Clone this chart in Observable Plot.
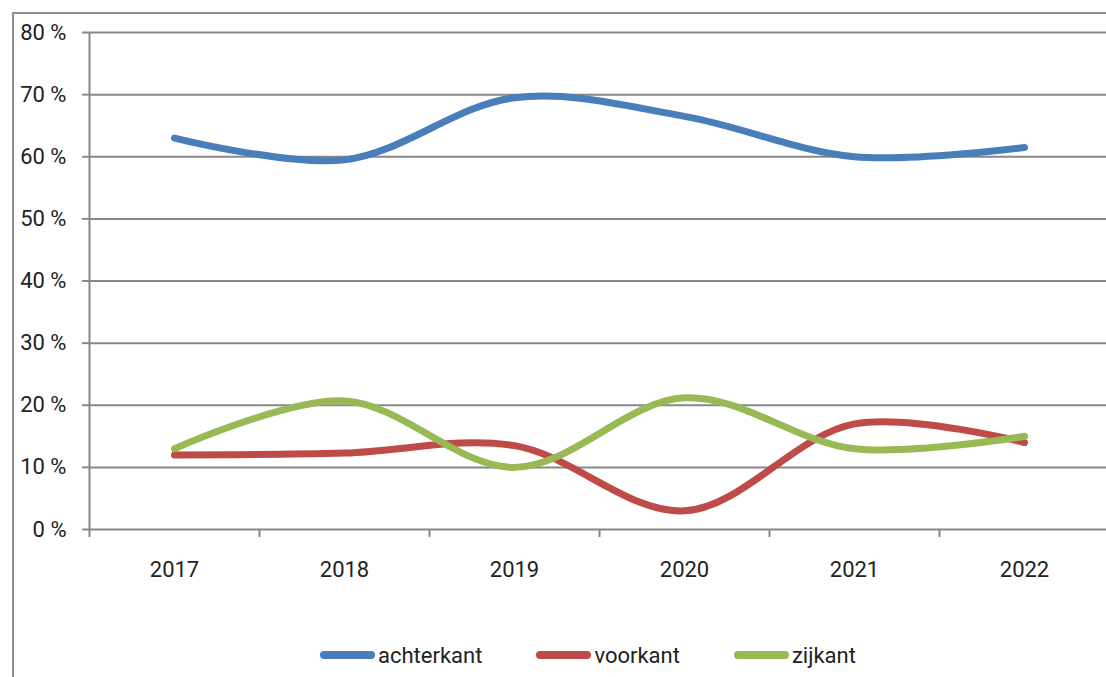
<!DOCTYPE html>
<html>
<head>
<meta charset="utf-8">
<script src="https://cdn.jsdelivr.net/npm/d3@7"></script>
<script src="https://cdn.jsdelivr.net/npm/@observablehq/plot@0.6"></script>
<style>
  html, body { margin: 0; padding: 0; background: #fff; }
  #wrap { position: relative; width: 1106px; height: 677px; overflow: hidden; font-family: Roboto, "Open Sans", sans-serif; }
  #frame { position: absolute; left: 12px; top: 12px; right: -10px; bottom: -10px; border-left: 2px solid #8e8e8e; border-top: 2px solid #8e8e8e; }
  #chart { position: absolute; left: 0; top: 0; }
  #legend { position: absolute; left: 320px; top: 640px; height: 30px; display: flex; align-items: center; font-size: 22px; color: #222; }
  .item { display: flex; align-items: center; margin-right: 54px; }
  .swatch { width: 55px; height: 8px; border-radius: 4px; margin-right: 3px; }
</style>
</head>
<body>
<div id="wrap">
  <div id="frame"></div>
  <div id="chart"></div>
  <div id="legend"></div>
</div>
<script>
const years = [2017, 2018, 2019, 2020, 2021, 2022];
const seriesNames = ["achterkant", "voorkant", "zijkant"];
const seriesColors = ["#4a7ebb", "#be4b48", "#98b954"];
const achterkant = [63, 59.5, 69.5, 66.5, 60, 61.5];
const voorkant = [12, 12.3, 13.5, 3, 17, 14];
const zijkant = [13, 20.7, 10, 21.2, 13, 15];
const yTicks = [0, 10, 20, 30, 40, 50, 60, 70, 80];

const valuesBySeries = {achterkant, voorkant, zijkant};
const data = seriesNames.flatMap(s => years.map((y, i) => ({series: s, year: y, value: valuesBySeries[s][i]})));
const boundaries = years.map(y => y - 0.5).concat([years[years.length - 1] + 0.5]);

const gray = "#888888";
const chart = Plot.plot({
  width: 1106,
  height: 600,
  marginTop: 32,
  marginBottom: 71,
  marginLeft: 89,
  marginRight: 0,
  style: {fontFamily: "Roboto, 'Open Sans', sans-serif", fontSize: "22px", color: "#222", background: "transparent"},
  x: {domain: [2016.5, 2022.5], range: [89, 1109]},
  y: {domain: [0, 80]},
  color: {domain: seriesNames, range: seriesColors},
  marks: [
    Plot.gridY(yTicks, {stroke: gray, strokeOpacity: 1, strokeWidth: 2}),
    Plot.ruleX([2016.5], {y1: 0, y2: 80, stroke: gray, strokeWidth: 2}),
    Plot.axisY(yTicks, {tickFormat: d => d + " %", tickSize: 7, tickPadding: 16, stroke: gray, strokeWidth: 2, fontSize: 22, label: null}),
    Plot.axisX(boundaries, {tickFormat: () => "", tickSize: 8, stroke: gray, strokeWidth: 2, label: null}),
    Plot.axisX(years, {tickFormat: d => String(d), tickSize: 0, tickPadding: 32, fontSize: 22, label: null}),
    Plot.line(data, {x: "year", y: "value", z: "series", stroke: "series", curve: "catmull-rom", strokeWidth: 7, strokeLinecap: "round", strokeLinejoin: "round"})
  ]
});
document.getElementById("chart").appendChild(chart);

const legend = document.getElementById("legend");
seriesNames.forEach((s, i) => {
  const item = document.createElement("div");
  item.className = "item";
  const sw = document.createElement("div");
  sw.className = "swatch";
  sw.style.background = seriesColors[i];
  const t = document.createElement("span");
  t.textContent = s;
  item.appendChild(sw);
  item.appendChild(t);
  legend.appendChild(item);
});
</script>
</body>
</html>
